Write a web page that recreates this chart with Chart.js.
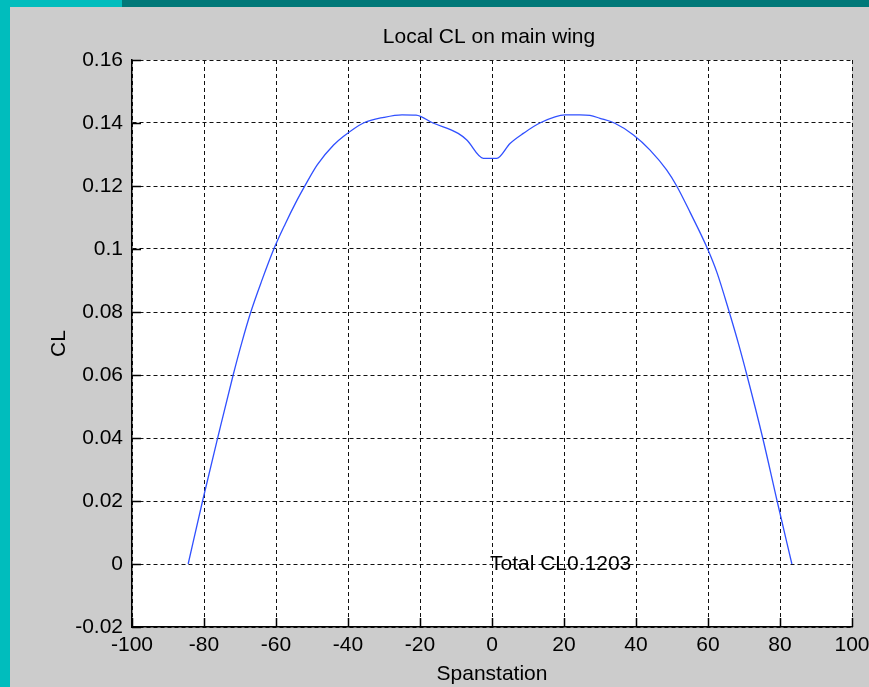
<!DOCTYPE html>
<html>
<head>
<meta charset="utf-8">
<script src="https://cdn.jsdelivr.net/npm/chart.js@4.4.0/dist/chart.umd.min.js"></script>
<style>
  html, body { margin: 0; padding: 0; }
  body { width: 869px; height: 687px; background: #cccccc; position: relative; overflow: hidden; }
  #stripL { position: absolute; left: 0; top: 0; width: 10px; height: 687px; background: #00bdbd; }
  #stripT1 { position: absolute; left: 0; top: 0; width: 122px; height: 7px; background: #00bdbd; }
  #stripT2 { position: absolute; left: 122px; top: 0; width: 747px; height: 7px; background: #007878; }
  #c { position: absolute; left: 0; top: 0; }
</style>
</head>
<body>
<div id="stripL"></div><div id="stripT1"></div><div id="stripT2"></div>
<canvas id="c" width="869" height="687"></canvas>
<script>
// ---- data ----
const spanX = [-84.4, -80.4, -76.2, -71.9, -69.5, -67, -64, -60.6, -57.5, -54.3,
  -52.1, -48.5, -44, -41.3, -35.7, -30, -25, -21.1, -16.4, -9.4, -7, -2.4,
  1.3, 5, 8.7, 13.3, 20.3, 24.4, 27.2, 30, 34,
  39.3, 43.9, 48.5, 51.3, 55, 59.9, 62.5, 65.9, 68.5, 70.8, 75.2, 79.2, 83.3];
const localCL = [0, 0.02, 0.04, 0.06, 0.0703, 0.08, 0.0898, 0.1, 0.1078, 0.1152,
  0.1198, 0.1268, 0.133, 0.1357, 0.14, 0.1418, 0.1426, 0.1425, 0.14, 0.1367, 0.1346, 0.1288,
  0.1288, 0.1335, 0.1367, 0.14, 0.1426, 0.1426, 0.1424, 0.1415, 0.14,
  0.1362, 0.1314, 0.1251, 0.12, 0.1117, 0.1, 0.0925, 0.08, 0.0698, 0.06, 0.04, 0.02, 0];
const xTickValues = [-100, -80, -60, -40, -20, 0, 20, 40, 60, 80, 100];
const xTickLabels = ['-100', '-80', '-60', '-40', '-20', '0', '20', '40', '60', '80', '100'];
const yTickValues = [-0.02, 0, 0.02, 0.04, 0.06, 0.08, 0.1, 0.12, 0.14, 0.16];
const yTickLabels = ['-0.02', '0', '0.02', '0.04', '0.06', '0.08', '0.1', '0.12', '0.14', '0.16'];
const chartTitle = 'Local CL on main wing';
const xTitle = 'Spanstation';
const yTitle = 'CL';
const noteText = 'Total CL0.1203';
const notePos = { x: 0, y: 0 };

const FONT = 'Liberation Sans, Arial, sans-serif';
const FS = 21;

const bgPlugin = {
  id: 'bg',
  beforeDraw(chart) {
    const { ctx, chartArea: a } = chart;
    ctx.save();
    ctx.fillStyle = '#ffffff';
    ctx.fillRect(a.left, a.top, a.right - a.left, a.bottom - a.top);
    ctx.restore();
  },
  afterDraw(chart) {
    const { ctx, chartArea: a } = chart;
    const xs = chart.scales.x, ys = chart.scales.y;
    ctx.save();
    ctx.strokeStyle = '#000';
    ctx.lineWidth = 1.5;
    ctx.beginPath();
    xTickValues.forEach(v => {
      const px = Math.round(xs.getPixelForValue(v)) + 0.5;
      ctx.moveTo(px, a.bottom);
      ctx.lineTo(px, a.bottom - 9);
    });
    yTickValues.forEach(v => {
      const py = Math.round(ys.getPixelForValue(v)) + 0.5;
      ctx.moveTo(a.left, py);
      ctx.lineTo(a.left + 9, py);
    });
    ctx.stroke();
    ctx.fillStyle = '#000';
    ctx.font = FS + 'px ' + FONT;
    // title
    ctx.textAlign = 'center';
    ctx.textBaseline = 'middle';
    ctx.fillText(chartTitle, (a.left + a.right) / 2 - 3, 37);
    // annotation
    ctx.textAlign = 'left';
    ctx.fillText(noteText, xs.getPixelForValue(notePos.x) - 2, ys.getPixelForValue(notePos.y));
    ctx.restore();
  }
};

new Chart(document.getElementById('c'), {
  type: 'scatter',
  data: {
    datasets: [{
      data: spanX.map((x, i) => ({ x: x, y: localCL[i] })),
      showLine: true,
      borderColor: '#3050ff',
      borderWidth: 1.3,
      pointRadius: 0,
      cubicInterpolationMode: 'monotone',
      fill: false
    }]
  },
  plugins: [bgPlugin],
  options: {
    responsive: false,
    animation: false,
    devicePixelRatio: 1,
    layout: { padding: { left: 0, top: 60, right: 17, bottom: 0 } },
    plugins: {
      legend: { display: false },
      tooltip: { enabled: false },
      title: { display: false }
    },
    scales: {
      x: {
        type: 'linear',
        min: -100, max: 100,
        afterBuildTicks: s => { s.ticks = xTickValues.map(v => ({ value: v })); },
        afterFit: s => { s.height = 60; s.paddingLeft = 0; s.paddingRight = 0; },
        ticks: {
          color: '#000',
          font: { family: FONT, size: FS },
          padding: 6,
          maxRotation: 0,
          autoSkip: false,
          callback: (v, i) => xTickLabels[i]
        },
        grid: { color: '#111', lineWidth: 1, drawTicks: false },
        border: { display: true, color: '#000', width: 1.5, dash: [4, 3] },
        title: {
          display: true, text: xTitle, color: '#000',
          font: { family: FONT, size: FS }, padding: { top: 0, bottom: 0 }
        }
      },
      y: {
        type: 'linear',
        min: -0.02, max: 0.16,
        afterBuildTicks: s => { s.ticks = yTickValues.map(v => ({ value: v })); },
        afterFit: s => { s.width = 132; s.paddingTop = 0; s.paddingBottom = 0; },
        ticks: {
          color: '#000',
          font: { family: FONT, size: FS },
          padding: 9,
          autoSkip: false,
          callback: (v, i) => yTickLabels[i]
        },
        grid: { color: '#111', lineWidth: 1, drawTicks: false },
        border: { display: true, color: '#000', width: 1.5, dash: [4, 3] },
        title: {
          display: true, text: yTitle, color: '#000',
          font: { family: FONT, size: FS }, padding: { top: 47, bottom: 0 }
        }
      }
    }
  }
});
</script>
</body>
</html>
